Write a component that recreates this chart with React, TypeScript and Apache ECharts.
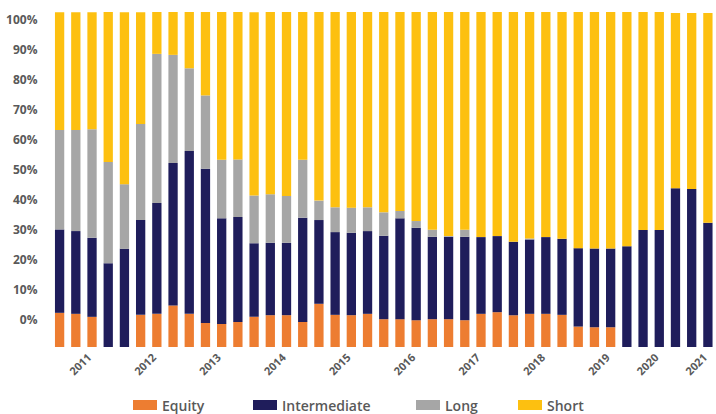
import React, { useEffect, useRef } from "react";
import * as echarts from "echarts";

const xLabels = [
  "", "", "2011", "", "", "", "2012", "", "", "", "2013", "", "", "", "2014", "", "", "",
  "2015", "", "", "", "2016", "", "", "", "2017", "", "", "", "2018", "", "", "", "2019",
  "", "", "2020", "", "", "2021",
];

const equity = [
  10.2, 9.9, 9.0, 0, 0, 9.6, 9.9, 12.4, 9.9, 7.2, 6.9, 7.5, 9.0, 9.5, 9.5, 7.5, 12.9, 9.6,
  9.5, 9.9, 8.3, 8.3, 8.0, 8.3, 8.3, 8.0, 9.9, 10.4, 9.5, 9.9, 9.9, 9.6, 6.1, 5.9, 5.9, 0,
  0, 0, 0, 0, 0,
];
const intermediate = [
  24.9, 24.7, 23.6, 25.0, 29.3, 28.3, 33.1, 42.5, 48.6, 46.0, 31.5, 31.3, 22.0, 21.6, 21.6,
  31.1, 25.0, 24.7, 24.6, 24.7, 24.9, 30.1, 27.6, 24.6, 24.6, 24.9, 22.9, 22.7, 21.9, 22.2,
  22.9, 22.7, 23.4, 23.5, 23.5, 30.1, 34.9, 34.9, 47.4, 47.2, 37.1,
];
const long = [
  29.7, 30.2, 32.4, 30.2, 19.3, 28.7, 44.5, 32.3, 24.7, 21.9, 17.5, 17.2, 14.2, 14.5, 14.0,
  17.3, 5.8, 7.4, 7.5, 7.1, 7.0, 2.2, 2.0, 2.1, 0.2, 2.1, 0, 0, 0, 0.3, 0, 0, 0, 0, 0, 0, 0,
  0, 0, 0, 0,
];
const short = [
  35.1, 35.1, 34.9, 44.8, 51.3, 33.3, 12.5, 12.8, 16.8, 25.0, 44.1, 44.1, 54.7, 54.4, 54.9,
  44.1, 56.3, 58.3, 58.5, 58.3, 59.9, 59.4, 62.4, 65.1, 66.9, 65.1, 67.2, 66.9, 68.7, 67.6,
  67.2, 67.7, 70.5, 70.6, 70.6, 69.9, 65.1, 65.1, 52.3, 52.5, 62.6,
];

const seriesNames = ["Equity", "Intermediate", "Long", "Short"];
const seriesColors = ["#ED7D31", "#1F1D5B", "#A6A6A6", "#FDC010"];
const seriesData = [equity, intermediate, long, short];
const legendLefts = [133, 253, 416, 518];

export default function App() {
  const ref = useRef<HTMLDivElement>(null);
  useEffect(() => {
    if (!ref.current) return;
    const chart = echarts.init(ref.current, null, { renderer: "svg" });
    const font = "'Open Sans', sans-serif";
    chart.setOption({
      animation: false,
      backgroundColor: "#ffffff",
      grid: [
        { left: 51.5, right: -6.8, top: 12, bottom: 67 },
        { left: 51.5, right: -6.8, top: 19, bottom: 95 },
      ],
      legend: seriesNames.map((n, i) => ({
        data: [n],
        left: legendLefts[i],
        top: 398,
        padding: 0,
        itemWidth: 24,
        itemHeight: 10,
        icon: "rect",
        textStyle: { color: "#595959", fontSize: 14, fontWeight: 600, fontFamily: font },
      })),
      xAxis: [
        {
          type: "category",
          gridIndex: 0,
          data: xLabels,
          axisLine: { show: false },
          axisTick: { show: false },
          axisLabel: { show: false },
        },
        { type: "category", gridIndex: 1, data: xLabels, show: false },
      ],
      yAxis: [
        { type: "value", gridIndex: 0, min: 0, max: 100, show: false },
        {
          type: "value",
          gridIndex: 1,
          min: 0,
          max: 100,
          interval: 10,
          axisLine: { show: false },
          axisTick: { show: false },
          splitLine: { show: false },
          axisLabel: {
            margin: 14,
            color: "#595959",
            fontSize: 12,
            fontWeight: "bold",
            fontFamily: font,
            formatter: (v: number) => v + "%",
          },
        },
      ],
      series: seriesNames.map((n, i) => ({
        name: n,
        type: "bar",
        stack: "total",
        xAxisIndex: 0,
        yAxisIndex: 0,
        barWidth: 9.3,
        itemStyle: { color: seriesColors[i] },
        data: seriesData[i],
      })),
    });
    const baseY = chart.convertToPixel({ yAxisIndex: 0 }, 0) as number;
    const labels: any[] = [];
    xLabels.forEach((t, i) => {
      if (!t) return;
      const x = chart.convertToPixel({ xAxisIndex: 0 }, i) as number;
      labels.push({
        type: "text",
        x: x - 12,
        y: baseY + 17,
        rotation: Math.PI / 4,
        style: {
          text: t,
          align: "center",
          verticalAlign: "middle",
          fill: "#595959",
          fontSize: 11,
          fontWeight: "bold",
          fontFamily: font,
        },
      });
    });
    chart.setOption({ graphic: { elements: labels } });
    return () => chart.dispose();
  }, []);
  return (
    <div
      ref={ref}
      style={{ position: "fixed", left: 0, top: 0, width: 716, height: 414 }}
    />
  );
}
